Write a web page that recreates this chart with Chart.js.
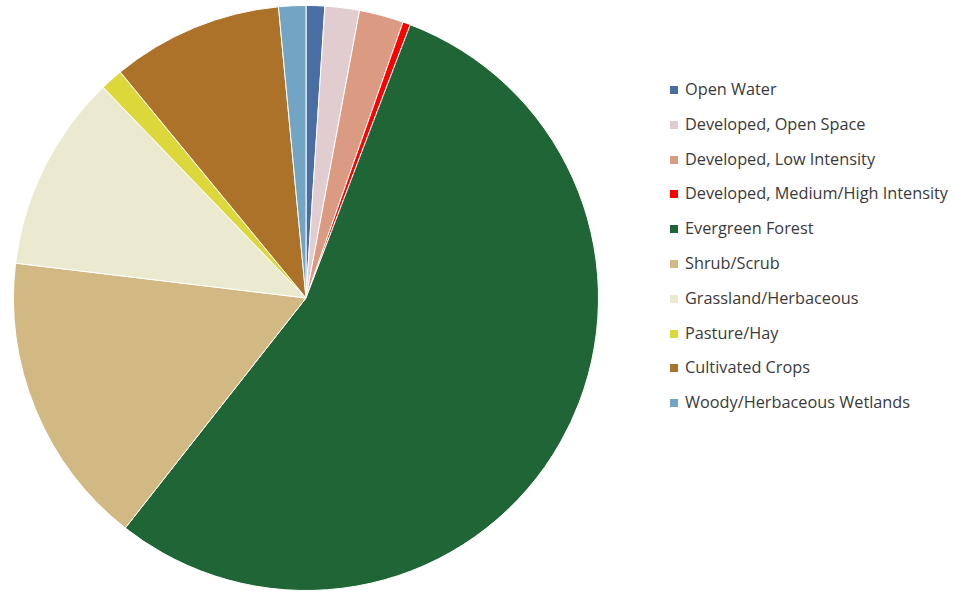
<!DOCTYPE html>
<html>
<head>
<meta charset="utf-8">
<script src="https://cdn.jsdelivr.net/npm/chart.js@4"></script>
<style>
    body { margin: 0; background: #fff; }
    #wrap { position: relative; width: 956px; height: 594px; }
    #pieBox { position: absolute; left: 0; top: 0; width: 612px; height: 594px; }
    #legend { position: absolute; left: 670px; top: 77px; font-family: "Open Sans", sans-serif; font-size: 16.3px; color: #3a3a3a; }
    .item { height: 34.8px; line-height: 24px; white-space: nowrap; }
    .box { display: inline-block; width: 8px; height: 8px; margin-right: 7px; vertical-align: 1px; }
</style>
</head>
<body>
<div id="wrap">
    <div id="pieBox"><canvas id="landChart"></canvas></div>
    <div id="legend"></div>
</div>
<script>
const categories = [
    "Open Water",
    "Developed, Open Space",
    "Developed, Low Intensity",
    "Developed, Medium/High Intensity",
    "Evergreen Forest",
    "Shrub/Scrub",
    "Grassland/Herbaceous",
    "Pasture/Hay",
    "Cultivated Crops",
    "Woody/Herbaceous Wetlands"
];
const percents = [1.03, 1.9, 2.45, 0.42, 54.8, 16.3, 10.9, 1.25, 9.45, 1.5];
const colors = ["#4a6da4", "#e1cdd0", "#db9a82", "#ff0000", "#1f6535",
                "#d2b984", "#ebead0", "#dcd83c", "#ad7229", "#72a5c3"];

new Chart(document.getElementById("landChart"), {
    type: "pie",
    data: {
        labels: categories,
        datasets: [{
            data: percents,
            backgroundColor: colors,
            borderColor: "#ffffff",
            borderWidth: 1
        }]
    },
    options: {
        responsive: true,
        maintainAspectRatio: false,
        animation: false,
        layout: { padding: { top: 5, bottom: 3 } },
        plugins: {
            legend: { display: false },
            tooltip: { enabled: false }
        }
    }
});

const legendBox = document.getElementById("legend");
categories.forEach((c, i) => {
    legendBox.innerHTML += `<div class="item"><span class="box" style="background:${colors[i]}"></span>${c}</div>`;
});
</script>
</body>
</html>
